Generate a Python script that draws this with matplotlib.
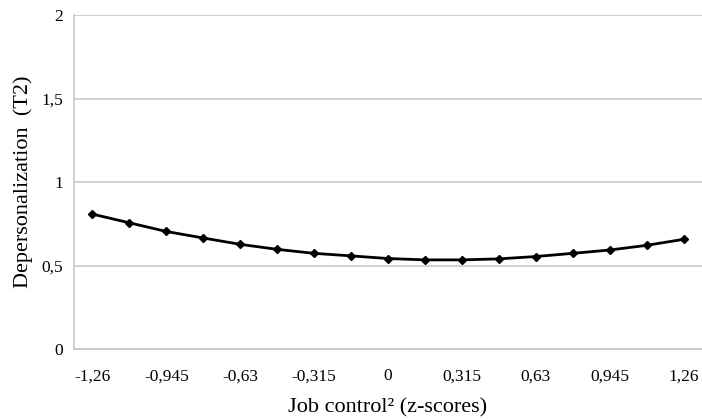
from matplotlib import pyplot as plt

# Data
x_labels = ["-1,26", "", "-0,945", "", "-0,63", "", "-0,315", "", "0",
            "", "0,315", "", "0,63", "", "0,945", "", "1,26"]
depersonalization = [0.808, 0.756, 0.704, 0.665, 0.627, 0.597, 0.573, 0.558, 0.542,
                     0.534, 0.534, 0.540, 0.554, 0.573, 0.593, 0.621, 0.657]
y_ticks = [0, 0.5, 1, 1.5, 2]
y_tick_labels = ["0", "0,5", "1", "1,5", "2"]

plt.rcParams['font.family'] = ['Liberation Serif', 'DejaVu Serif']

fig = plt.figure(figsize=(7.02, 4.2), dpi=100)
ax = fig.add_axes([0.1054, 0.169, 0.8946, 0.795])

idx = list(range(len(depersonalization)))
ax.plot(idx, depersonalization, c="black", linewidth=2, marker="D", markersize=4.5)

ax.set_xlim(-0.5, len(idx) - 0.5)
ax.set_ylim(0, 2)
ax.set_yticks(y_ticks)
ax.set_yticklabels(y_tick_labels)
ax.set_xticks(idx)
ax.set_xticklabels(x_labels)
ax.yaxis.grid(True, color="#c8c8c8", linewidth=1.2)
ax.set_axisbelow(True)

for side in ["top", "right"]:
    ax.spines[side].set_visible(False)
for side in ["left", "bottom"]:
    ax.spines[side].set_color("#c8c8c8")
    ax.spines[side].set_linewidth(1.2)

ax.tick_params(axis="both", length=0, labelsize=12.5)
ax.tick_params(axis="x", pad=14)
ax.tick_params(axis="y", pad=8)

ax.set_xlabel("Job control² (z-scores)", fontsize=16, labelpad=10)
ax.set_ylabel("Depersonalization  (T2)", fontsize=16, labelpad=6)

fig.savefig("out.png", dpi=100)
